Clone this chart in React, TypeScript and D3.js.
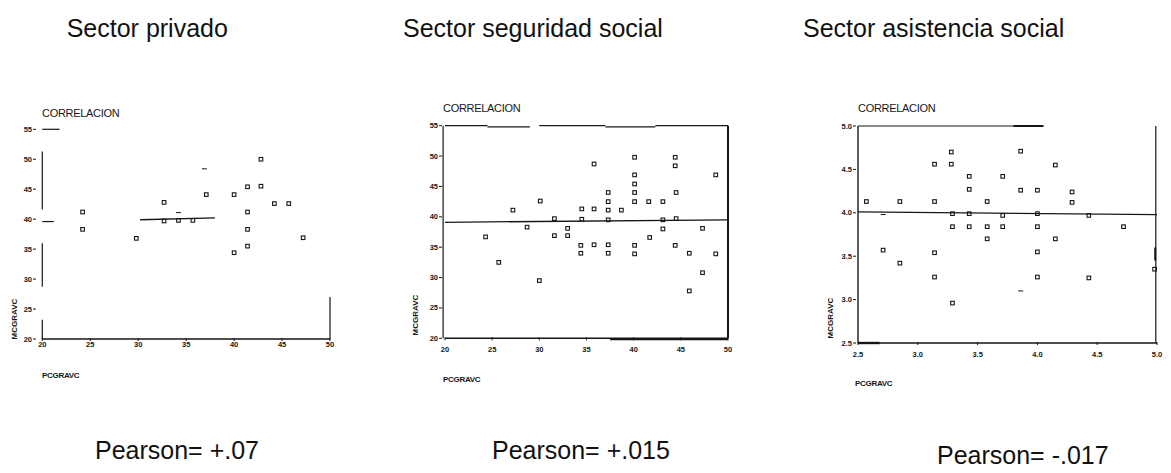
import React from "react";
import * as d3 from "d3";

// ---------- DATA ----------
const titles = ["Sector privado", "Sector seguridad social", "Sector asistencia social"];
const pearsonLabels = ["Pearson= +.07", "Pearson= +.015", "Pearson= -.017"];
const xTicksA = [20, 25, 30, 35, 40, 45, 50];
const yTicksA = [20, 25, 30, 35, 40, 45, 50, 55];
const ticksB = [2.5, 3.0, 3.5, 4.0, 4.5, 5.0];

const privado: [number, number][] = [
  [24.2, 41.2], [24.2, 38.3], [29.8, 36.8], [32.7, 42.8], [32.7, 39.7], [34.2, 39.8],
  [35.7, 39.8], [37.1, 44.1], [40.0, 44.1], [41.4, 45.4], [42.8, 50.0], [42.8, 45.5],
  [41.4, 41.2], [41.4, 38.3], [44.2, 42.6], [45.7, 42.6], [47.2, 36.9], [41.4, 35.5],
  [40.0, 34.4],
];
const privadoDashes: [number, number][] = [[34.2, 41.1], [36.9, 48.4]];
const fitPrivado: [number, number][] = [[30.2, 39.9], [38.0, 40.2]];

const seguridad: [number, number][] = [
  [24.3, 36.7], [27.2, 41.1], [28.7, 38.3], [30.1, 42.6], [31.6, 39.7], [31.6, 36.9],
  [33.0, 38.1], [33.0, 36.9], [34.5, 41.3], [34.5, 39.6], [35.8, 48.7], [35.8, 41.3],
  [37.3, 44.0], [37.3, 42.5], [37.3, 41.1], [37.3, 39.5], [38.7, 41.1], [40.1, 49.8],
  [40.1, 46.9], [40.1, 45.4], [40.1, 44.0], [40.1, 42.5], [41.6, 42.5], [43.1, 42.5],
  [41.7, 36.6], [43.1, 39.5], [43.1, 38.0], [44.4, 49.8], [44.4, 48.4], [44.5, 44.0],
  [44.5, 39.7], [47.3, 38.1], [48.7, 46.9], [44.4, 35.3], [34.4, 35.3], [34.4, 34.0],
  [35.8, 35.4], [37.3, 35.4], [37.3, 34.0], [40.1, 35.3], [40.1, 33.9], [45.9, 34.0],
  [48.7, 33.9], [25.7, 32.5], [30.0, 29.5], [47.3, 30.8], [45.9, 27.8],
];
const fitSeguridad: [number, number][] = [[20, 39.1], [50, 39.5]];

const asistencia: [number, number][] = [
  [2.57, 4.13], [2.85, 4.13], [3.14, 4.56], [3.14, 4.13], [3.28, 4.70], [3.28, 4.56],
  [3.29, 3.99], [3.29, 3.84], [3.43, 4.42], [3.43, 4.27], [3.43, 3.99], [3.43, 3.84],
  [3.58, 4.13], [3.58, 3.84], [3.58, 3.70], [3.71, 4.42], [3.71, 3.97], [3.71, 3.84],
  [3.86, 4.71], [3.86, 4.26], [4.00, 4.26], [4.00, 3.99], [4.00, 3.84], [4.00, 3.55],
  [4.15, 4.55], [4.15, 3.70], [4.29, 4.24], [4.29, 4.12], [4.43, 3.97], [4.72, 3.84],
  [2.71, 3.57], [3.14, 3.54], [2.85, 3.42], [3.14, 3.26], [3.29, 2.96], [4.00, 3.26],
  [4.43, 3.25], [4.98, 3.35],
];
const asistenciaDashes: [number, number][] = [[3.86, 3.10], [2.71, 3.98]];
const fitAsistencia: [number, number][] = [[2.5, 4.01], [5.0, 3.98]];

// ---------- LAYOUT ----------
type Seg = { a: [number, number]; b: [number, number]; w: number };
type Panel = {
  xr: [number, number]; yr: [number, number];
  xd: [number, number]; yd: [number, number];
  xt: number[]; yt: number[]; fmt: (v: number) => string;
  points: [number, number][]; dashes: [number, number][]; fit: [number, number][];
  frame: Seg[];
  titleX: number; titleY: number; corrX: number; corrY: number;
  pcX: number; pcY: number; mcX: number; mcY: number;
  ylabX: number; xlabY: number; pearX: number; pearY: number;
};

const fmtInt = (v: number) => String(v);
const fmtDec = d3.format(".1f");

const panels: Panel[] = [
  {
    xr: [42.3, 330], yr: [339, 129.3], xd: [20, 50], yd: [20, 55],
    xt: xTicksA, yt: yTicksA, fmt: fmtInt,
    points: privado, dashes: privadoDashes, fit: fitPrivado,
    frame: [
      { a: [20, 20], b: [50, 20], w: 1.6 },
      { a: [20, 51.3], b: [20, 41.6], w: 1.2 },
      { a: [20, 36], b: [20, 28.7], w: 1.2 },
      { a: [20, 23.2], b: [20, 20], w: 1.2 },
      { a: [20, 55], b: [21.8, 55], w: 1.2 },
      { a: [20, 39.6], b: [21.2, 39.6], w: 1.2 },
      { a: [50, 27], b: [50, 20], w: 1.2 },
    ],
    titleX: 66.7, titleY: 37, corrX: 42, corrY: 117,
    pcX: 42, pcY: 378, mcX: 15, mcY: 319, ylabX: 35, xlabY: 347, pearX: 95, pearY: 459,
  },
  {
    xr: [445, 728], yr: [338.3, 125.7], xd: [20, 50], yd: [20, 55],
    xt: xTicksA, yt: yTicksA, fmt: fmtInt,
    points: seguridad, dashes: [], fit: fitSeguridad,
    frame: [
      { a: [20, 20], b: [50, 20], w: 1.4 },
      { a: [37.5, 19.8], b: [50, 19.8], w: 1.6 },
      { a: [19.8, 20], b: [19.8, 55], w: 1.2 },
      { a: [20, 55], b: [24.5, 55], w: 1.2 },
      { a: [24.5, 54.8], b: [29, 54.8], w: 1.2 },
      { a: [30, 55], b: [37, 55], w: 1.2 },
      { a: [37, 54.8], b: [42.3, 54.8], w: 1.2 },
      { a: [42.3, 55], b: [50, 55], w: 1.2 },
      { a: [50, 55], b: [50, 20], w: 2 },
    ],
    titleX: 403, titleY: 37, corrX: 443, corrY: 112,
    pcX: 443, pcY: 382, mcX: 416, mcY: 315, ylabX: 441, xlabY: 352, pearX: 492, pearY: 459,
  },
  {
    xr: [858, 1157], yr: [343, 126], xd: [2.5, 5.0], yd: [2.5, 5.0],
    xt: ticksB, yt: ticksB, fmt: fmtDec,
    points: asistencia, dashes: asistenciaDashes, fit: fitAsistencia,
    frame: [
      { a: [2.5, 2.5], b: [5.0, 2.5], w: 1.4 },
      { a: [2.5, 2.5], b: [2.68, 2.5], w: 2.4 },
      { a: [2.5, 2.5], b: [2.5, 5.0], w: 1.4 },
      { a: [2.5, 5.0], b: [4.05, 5.0], w: 1.2 },
      { a: [3.8, 5.0], b: [4.05, 5.0], w: 2 },
      { a: [4.99, 5.0], b: [4.99, 2.5], w: 1.2 },
      { a: [4.985, 3.6], b: [4.985, 3.45], w: 2 },
    ],
    titleX: 803, titleY: 37, corrX: 858, corrY: 112,
    pcX: 855, pcY: 386, mcX: 831, mcY: 318, ylabX: 855, xlabY: 357, pearX: 937, pearY: 464,
  },
];

const FONT = "'Liberation Sans', Arial, sans-serif";
const INK = "#161616";

function PanelView({ p, i }: { p: Panel; i: number }) {
  const x = d3.scaleLinear().domain(p.xd).range(p.xr);
  const y = d3.scaleLinear().domain(p.yd).range(p.yr);
  const line = d3.line<[number, number]>().x((d) => x(d[0])).y((d) => y(d[1]));
  return (
    <g>
      <text x={p.titleX} y={p.titleY} fontSize={25} fontFamily={FONT} fill="#111">{titles[i]}</text>
      <text x={p.corrX} y={p.corrY} fontSize={11} fontFamily={FONT} fill={INK} letterSpacing={-0.3}>CORRELACION</text>
      {p.frame.map((s, k) => (
        <line key={k} x1={x(s.a[0])} y1={y(s.a[1])} x2={x(s.b[0])} y2={y(s.b[1])} stroke={INK} strokeWidth={s.w} />
      ))}
      {p.yt.map((v) => (
        <g key={"y" + v}>
          <text x={p.ylabX - 3} y={y(v) + 2.5} fontSize={7.5} fontWeight="bold" fontFamily={FONT} textAnchor="end" fill={INK}>{p.fmt(v)}</text>
          <line x1={p.ylabX - 2} x2={p.ylabX + 1} y1={y(v)} y2={y(v)} stroke={INK} strokeWidth={1} />
        </g>
      ))}
      {p.xt.map((v) => (
        <g key={"x" + v}>
          <line x1={x(v)} x2={x(v)} y1={y(p.yd[0]) - 1} y2={y(p.yd[0]) + 2} stroke={INK} strokeWidth={1} />
          <text x={x(v)} y={p.xlabY} fontSize={7.5} fontWeight="bold" fontFamily={FONT} textAnchor="middle" fill={INK}>{p.fmt(v)}</text>
        </g>
      ))}
      <path d={line(p.fit) || ""} stroke={INK} strokeWidth={1.3} fill="none" />
      {p.points.map((d, k) => (
        <rect key={k} x={x(d[0]) - 1.8} y={y(d[1]) - 1.8} width={3.6} height={3.6} fill="none" stroke={INK} strokeWidth={1.1} />
      ))}
      {p.dashes.map((d, k) => (
        <line key={"d" + k} x1={x(d[0]) - 2.5} x2={x(d[0]) + 2.5} y1={y(d[1])} y2={y(d[1])} stroke={INK} strokeWidth={1} />
      ))}
      <text x={p.pcX} y={p.pcY} fontSize={8} fontWeight="bold" fontFamily={FONT} fill={INK} letterSpacing={-0.3}>PCGRAVC</text>
      <text transform={`translate(${p.mcX},${p.mcY}) rotate(-90)`} fontSize={8} fontWeight="bold" fontFamily={FONT} fill={INK} textAnchor="middle" dominantBaseline="middle">MCGRAVC</text>
      <text x={p.pearX} y={p.pearY} fontSize={25} fontFamily={FONT} fill="#111">{pearsonLabels[i]}</text>
    </g>
  );
}

export default function App() {
  return (
    <div style={{ position: "absolute", left: 0, top: 0 }}>
      <svg width={1171} height={473} style={{ display: "block", background: "#fff" }}>
        <rect width={1171} height={473} fill="#fff" />
        {panels.map((p, i) => (
          <PanelView key={i} p={p} i={i} />
        ))}
      </svg>
    </div>
  );
}
